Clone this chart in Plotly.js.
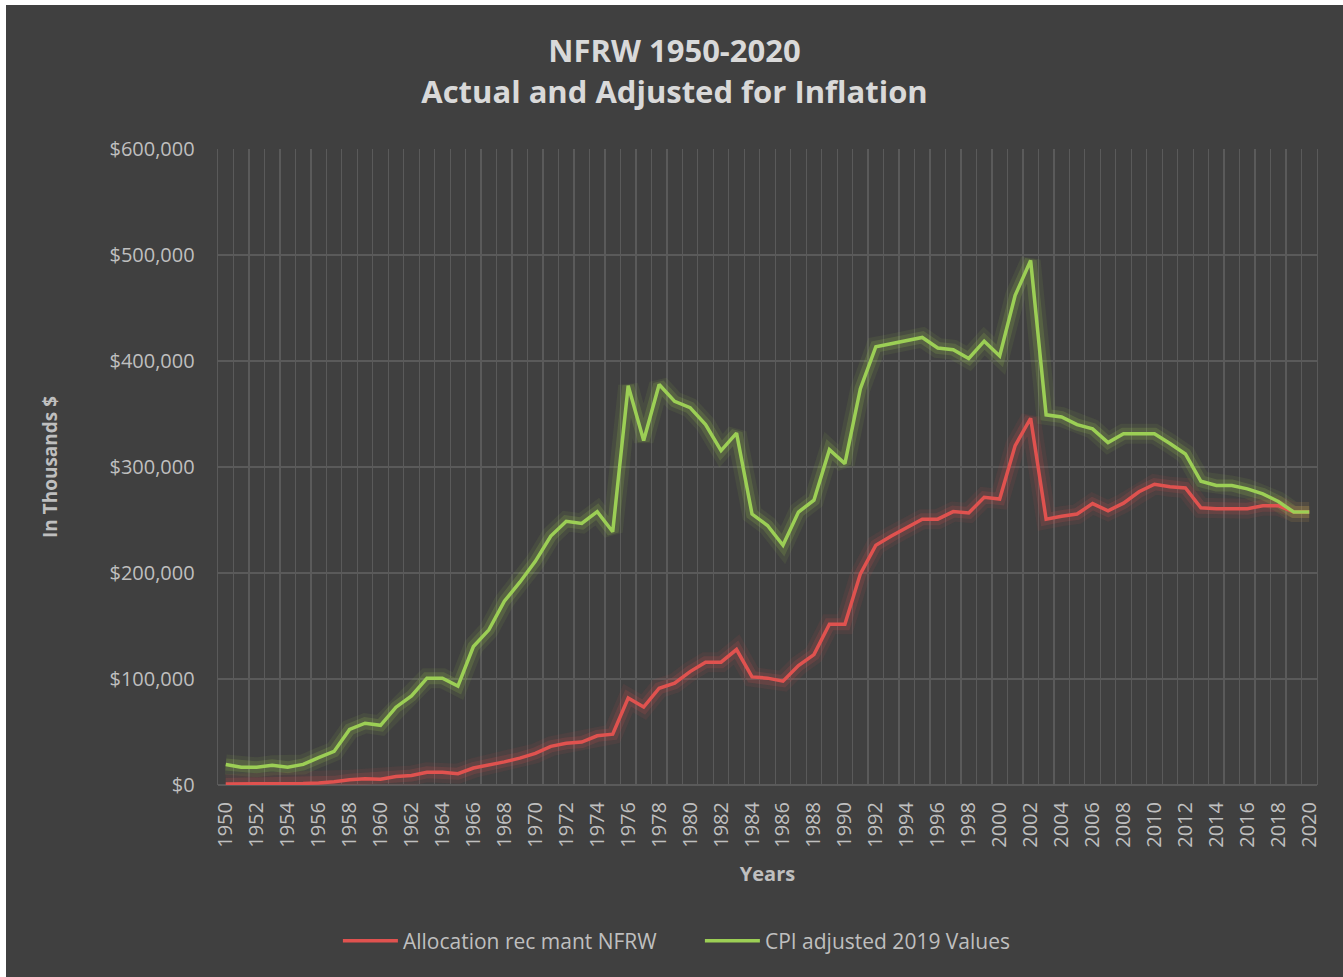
<!DOCTYPE html>
<html>
<head>
<meta charset="utf-8">
<script src="https://cdn.plot.ly/plotly-3.0.1.min.js"></script>
<style>
  html, body { margin: 0; padding: 0; background: #ffffff; width: 1343px; height: 977px; overflow: hidden; }
  #chart { position: absolute; left: 6px; top: 5px; width: 1337px; height: 972px; }
</style>
</head>
<body>
<div id="chart"></div>
<script>
const years = [];
for (let y = 1950; y <= 2020; y++) years.push(y);

const allocation = [
  1000, 1000, 1000, 1000, 1000, 1500, 2000, 3000, 5000, 6000,
  5500, 8000, 9000, 12000, 12000, 10700, 16000, 18700, 21800, 25400,
  29800, 36500, 39300, 40500, 46400, 48000, 82000, 73500, 91300, 96000,
  107000, 115900, 115900, 127800, 102000, 100800, 98000, 112700, 123000, 151600,
  151600, 199200, 226200, 234900, 242900, 250800, 250800, 257900, 256700, 271400,
  269800, 320200, 346000, 250800, 253600, 255600, 265500, 258700, 265900, 276600,
  283700, 281300, 280200, 261500, 260700, 260700, 260700, 263500, 263500, 257500,
  257500
];

const cpiAdjusted = [
  19400, 16700, 16700, 18600, 16700, 19400, 25800, 31700, 52400, 58300,
  56300, 73400, 84100, 100800, 100800, 93300, 130600, 146400, 173400, 191300,
  211000, 234900, 248800, 246800, 257900, 238900, 376600, 325000, 377800, 361900,
  356000, 340000, 315500, 332000, 255600, 244800, 226200, 257500, 268700, 316300,
  303200, 373800, 413500, 416300, 418700, 422200, 412300, 410700, 402400, 418700,
  404800, 461900, 494800, 349200, 347200, 340000, 336000, 323000, 331300, 331300,
  331300, 322200, 312300, 286500, 282500, 282500, 279400, 274600, 267500, 257500,
  257500
];

const seriesNames = ["Allocation rec mant NFRW", "CPI adjusted 2019 Values"];
const yTickVals = [0, 100000, 200000, 300000, 400000, 500000, 600000];
const yTickText = ["$0", "$100,000", "$200,000", "$300,000", "$400,000", "$500,000", "$600,000"];

const RED = "#e0524f";
const GREEN = "#9ccf55";

function glow(y, rgb, w, a) {
  return {
    x: years, y: y, type: "scatter", mode: "lines",
    line: { color: "rgba(" + rgb + "," + a + ")", width: w, shape: "linear" },
    hoverinfo: "skip", showlegend: false
  };
}

const traces = [
  glow(allocation, "224,82,79", 20, 0.08),
  glow(allocation, "224,82,79", 12, 0.16),
  glow(cpiAdjusted, "170,215,80", 20, 0.08),
  glow(cpiAdjusted, "170,215,80", 12, 0.16),
  {
    x: years, y: allocation, name: seriesNames[0], type: "scatter", mode: "lines",
    line: { color: RED, width: 3.5 }
  },
  {
    x: years, y: cpiAdjusted, name: seriesNames[1], type: "scatter", mode: "lines",
    line: { color: GREEN, width: 3.5 }
  }
];

const txt = "#bfbfbf";
const grid = "#5a5a5a";
const layout = {
  width: 1337, height: 972,
  paper_bgcolor: "#404040",
  plot_bgcolor: "#404040",
  font: { family: "Open Sans, sans-serif", color: txt, size: 18 },
  margin: { l: 212, r: 26, t: 144, b: 192 },
  title: {
    text: "<b>NFRW 1950-2020<br>Actual and Adjusted for Inflation</b>",
    font: { size: 31, color: "#d9d9d9", family: "Open Sans, sans-serif" },
    x: 0.5, xanchor: "center", xref: "container",
    y: 0.941, yanchor: "middle", yref: "container"
  },
  xaxis: {
    type: "linear",
    range: [1949.5, 2020.5],
    tickmode: "linear", tick0: 1950, dtick: 2,
    tickangle: -90,
    tickfont: { size: 20, color: txt },
    ticklabelstandoff: 12,
    showgrid: false,
    zeroline: false,
    showline: false,
    ticks: "",
    minor: { tickmode: "linear", tick0: 1949.5, dtick: 1, showgrid: true, gridcolor: grid, gridwidth: 1.3, ticks: "" },
    title: { text: "<b>Years</b>", font: { size: 20, color: txt }, standoff: 20 },
    automargin: false
  },
  yaxis: {
    range: [0, 600000],
    tickvals: yTickVals, ticktext: yTickText,
    tickfont: { size: 20, color: txt },
    ticklabelstandoff: 18,
    showgrid: true, gridcolor: grid, gridwidth: 1.3,
    zeroline: true, zerolinecolor: grid, zerolinewidth: 1.3,
    showline: true, mirror: true, linecolor: grid, linewidth: 1.3,
    ticks: "", ticklen: 0,
    title: { text: "<b>In Thousands $</b>", font: { size: 19, color: txt }, standoff: 46 },
    automargin: false
  },
  showlegend: true,
  legend: {
    orientation: "h",
    xref: "container", x: 0.519, xanchor: "center",
    yref: "container", y: 0.037, yanchor: "middle",
    font: { size: 21, color: txt },
    bgcolor: "rgba(0,0,0,0)",
    itemwidth: 55,
    entrywidth: 292
  }
};

Plotly.newPlot("chart", traces, layout, { displayModeBar: false, staticPlot: true });
</script>
</body>
</html>
